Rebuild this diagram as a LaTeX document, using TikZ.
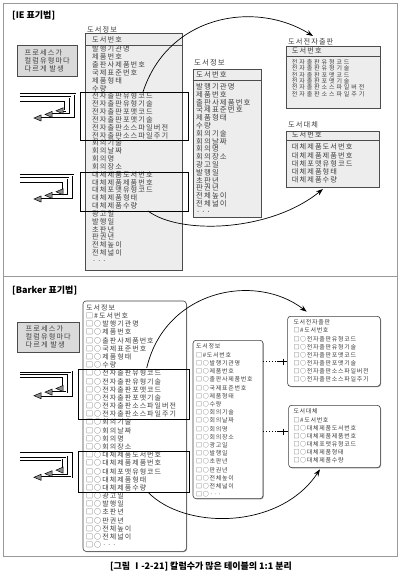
\documentclass[tikz,border=0pt]{standalone}
\usepackage{fontspec}
\setmainfont{Noto Sans CJK KR}
\newfontfamily\fA[LetterSpace=15]{Noto Sans CJK KR}
\newfontfamily\fB[LetterSpace=12]{Noto Sans CJK KR}
\newfontfamily\fC[LetterSpace=32]{Noto Sans CJK KR}
\usetikzlibrary{arrows.meta,shadows}
\definecolor{boxfill}{HTML}{EDEDED}
\definecolor{procfill}{HTML}{DADADA}
\definecolor{txt}{HTML}{404040}
\definecolor{panelc}{HTML}{9A9A9A}
\tikzset{
  panel/.style={draw=panelc, line width=0.9pt},
  title/.style={anchor=west, inner sep=0pt, font=\bfseries\fontsize{9}{10}\selectfont},
  rowA/.style={anchor=west, inner sep=0pt, text=txt, font=\fA\fontsize{7.2}{8}\selectfont, text height=6pt, text depth=0.7pt},
  rowM/.style={anchor=west, inner sep=0pt, text=txt, font=\fA\fontsize{7.4}{8}\selectfont, text height=6.1pt, text depth=0.7pt},
  rowB/.style={anchor=west, inner sep=0pt, text=txt, font=\fA\fontsize{7}{8}\selectfont, text height=5.9pt, text depth=0.7pt},
  rowS/.style={anchor=west, inner sep=0pt, text=txt, font=\fB\fontsize{6}{7}\selectfont, text height=5pt, text depth=0.6pt},
  rowC/.style={anchor=west, inner sep=0pt, text=txt, font=\fC\fontsize{6}{7}\selectfont, text height=5pt, text depth=0.6pt},
  iebox/.style={draw=black!70, line width=0.6pt, fill=boxfill, anchor=north west, inner sep=0pt},
  barkbox/.style={draw=black!75, line width=0.6pt, fill=white, rounded corners=3pt, anchor=north west, inner sep=0pt,
     drop shadow={shadow xshift=0.7pt, shadow yshift=-0.7pt, fill=black!55, opacity=0.8}},
  procbox/.style={draw=black!70, line width=0.6pt, fill=procfill, anchor=north west, inner sep=0pt},
  proctext/.style={align=left, inner sep=0pt, text=txt, font=\fA\fontsize{7.2}{7.7}\selectfont},
  hl/.style={draw=black, line width=1.1pt, anchor=north west, inner sep=0pt},
  sepline/.style={draw=black!70, line width=0.6pt},
  curvearrow/.style={line width=0.7pt, -{Stealth[length=7pt,width=5pt]}},
  bundleline/.style={line width=0.5pt, double=white, double distance=0.9pt},
  bundletip/.style={fill=black!45, draw=black, line width=0.5pt, line join=miter},
  relline/.style={line width=0.5pt},
  reldot/.style={line width=0.6pt, dash pattern=on 1pt off 2pt}
}
\newcommand\arrowbundle[2]{%
  \foreach \k in {0,1,2}{%
    \pgfmathsetmacro\yy{#1+3.3*\k}%
    \pgfmathsetmacro\xr{#2-5*\k}%
    \pgfmathsetmacro\yb{#1+24-3.6*\k}%
    \pgfmathsetmacro\xt{34+11*\k}%
    \draw[bundleline] (20,\yy) -- (\xr,\yy) -- (\xr,\yb) -- (\xt+7,\yb);
    \filldraw[bundletip] (\xt,\yb) -- (\xt+7,\yb-3) -- (\xt+7,\yb+3) -- cycle;
  }%
}
\begin{document}
\begin{tikzpicture}[x=1pt,y=-1pt]
\useasboundingbox (0,0) rectangle (400,577);
\fill[white] (0,0) rectangle (400,577);

% panels
\draw[panel] (3,3) rectangle (397,276);
\draw[panel] (3,276) rectangle (397,556);

\node[title] (ieTitle) at (12,15) {[IE 표기법]};
\node[title] (bkTitle) at (12,290) {[Barker 표기법]};

% ================= IE =================
\node[procbox, minimum width=60pt, minimum height=31pt] (ieProc) at (17,45) {};
\node[proctext] (ieProcT) at (ieProc.center) {프로세스가\\컬럼유형마다\\다르게 발생};

% big IE box
\node[rowA] (ieBigL) at (87,29.5) {도서정보};
\node[iebox, minimum width=97pt, minimum height=237pt] (ieBig) at (85,33) {};
\draw[sepline] (ieBig.west |- 0,45) -- (ieBig.east |- 0,45);
\node[rowA] (ieBigH) at (92,39.5) {도서번호};
\foreach \t [count=\i from 0] in {발행기관명,제품번호,출판사제품번호,국제표준번호,제품형태,수량,전자출판유형코드,전자출판유형기술,전자출판포맷코드,전자출판포맷기술,전자출판소스파일버전,전자출판소스파일주기,회의기술,회의날짜,회의명,회의장소,대체제품도서번호,대체제품제품번호,대체포맷유형코드,대체제품형태,대체제품수량,광고일,발행일,초판년,판권년,전체높이,전체넓이,···}
  \node[rowA] (ieBig-\i) at (92,{49.3+7.83*\i}) {\t};
\node[hl, minimum width=108pt, minimum height=48pt] (ieH1) at (80,92) {};
\node[hl, minimum width=108pt, minimum height=39pt] (ieH2) at (80,171.7) {};

% middle IE box
\node[rowM] (ieMidL) at (194,63.3) {도서정보};
\node[iebox, minimum width=68pt, minimum height=147.4pt] (ieMid) at (192.7,69.3) {};
\draw[sepline] (ieMid.west |- 0,80) -- (ieMid.east |- 0,80);
\node[rowM] (ieMidH) at (196,74.8) {도서번호};
\foreach \t [count=\i from 0] in {발행기관명,제품번호,출판사제품번호,국제표준번호,제품형태,수량,회의기술,회의날짜,회의명,회의장소,광고일,발행일,초판년,판권년,전체높이,전체넓이,···}
  \node[rowM] (ieMid-\i) at (196,{86.7+7.81*\i}) {\t};

% right IE boxes
\node[rowA] (ieR1L) at (288,41.5) {도서전자출판};
\node[iebox, minimum width=94pt, minimum height=62.6pt] (ieR1) at (286,45.7) {};
\draw[sepline] (ieR1.west |- 0,56.7) -- (ieR1.east |- 0,56.7);
\node[rowA] (ieR1H) at (291.7,51.3) {도서번호};
\foreach \t [count=\i from 0] in {전자출판유형코드,전자출판유형기술,전자출판포맷코드,전자출판포맷기술,전자출판소스파일버전,전자출판소스파일주기}
  \node[rowC] (ieR1-\i) at (291.7,{62.4+6.35*\i}) {\t};

\node[rowA] (ieR2L) at (288,125) {도서대체};
\node[iebox, minimum width=93pt, minimum height=55.7pt] (ieR2) at (286,131) {};
\draw[sepline] (ieR2.west |- 0,140.3) -- (ieR2.east |- 0,140.3);
\node[rowA] (ieR2H) at (291.7,135.3) {도서번호};
\foreach \t [count=\i from 0] in {대체제품도서번호,대체제품제품번호,대체포맷유형코드,대체제품형태,대체제품수량}
  \node[rowA] (ieR2-\i) at (291.7,{147.3+8.2*\i}) {\t};

% IE curves
\coordinate (ieC1s) at (143,92);
\coordinate (ieC1e) at (313,36);
\draw[curvearrow] (ieC1s) .. controls (168,15) and (255,0) .. (ieC1e);
\coordinate (ieC2s) at (148,211);
\coordinate (ieC2e) at (323,189);
\draw[curvearrow] (ieC2s) .. controls (180,235) and (270,232) .. (ieC2e);

% IE bundles
\arrowbundle{94}{75}
\arrowbundle{175}{73}

% ================= Barker =================
\node[procbox, minimum width=62.6pt, minimum height=30pt] (bkProc) at (16.7,321.7) {};
\node[proctext] (bkProcT) at (bkProc.center) {프로세스가\\컬럼유형마다\\다르게 발생};

% big Barker box
\node[barkbox, minimum width=103.3pt, minimum height=250.3pt] (bkBig) at (82.7,300.7) {};
\node[rowB] (bkBigL) at (86,308.3) {도서정보};
\node[rowB] (bkBig-h) at (86,316) {□\#도서번호};
\foreach \t [count=\i from 1] in {발행기관명,제품번호,출판사제품번호,국제표준번호,제품형태,수량,전자출판유형코드,전자출판유형기술,전자출판포맷코드,전자출판포맷기술,전자출판소스파일버전,전자출판소스파일주기,회의기술,회의날짜,회의명,회의장소,대체제품도서번호,대체제품제품번호,대체포맷유형코드,대체제품형태,대체제품수량,광고일,발행일,초판년,판권년,전체높이,전체넓이,···}
  \node[rowB] (bkBig-\i) at (86,{316+8.18*\i}) {□○\t};
\node[hl, minimum width=111pt, minimum height=50pt] (bkH1) at (78.3,369.3) {};
\node[hl, minimum width=111pt, minimum height=41pt] (bkH2) at (78.3,450.7) {};

% middle Barker box
\node[barkbox, minimum width=70pt, minimum height=158.3pt] (bkMid) at (192.7,340) {};
\node[rowS] (bkMidL) at (196,346.5) {도서정보};
\node[rowS] (bkMid-h) at (196,355) {□\#도서번호};
\foreach \t [count=\i from 1] in {발행기관명,제품번호,출판사제품번호,국제표준번호,제품형태,수량,회의기술,회의날짜,회의명,회의장소,광고일,발행일,초판년,판권년,전체높이,전체넓이,···}
  \node[rowS] (bkMid-\i) at (196,{355+8.2*\i}) {□○\t};

% right Barker boxes
\node[barkbox, minimum width=92.7pt, minimum height=70pt] (bkR1) at (287.3,316) {};
\node[rowS] (bkR1L) at (293.3,322.3) {도서전자출판};
\node[rowS] (bkR1-h) at (293.3,330.7) {□\#도서번호};
\foreach \t [count=\i from 1] in {전자출판유형코드,전자출판유형기술,전자출판포맷코드,전자출판포맷기술,전자출판소스파일버전,전자출판소스파일주기}
  \node[rowS] (bkR1-\i) at (293.3,{330.7+8.1*\i}) {□○\t};

\node[barkbox, minimum width=91.7pt, minimum height=62.3pt] (bkR2) at (288.3,405) {};
\node[rowS] (bkR2L) at (293.3,411.7) {도서대체};
\node[rowS] (bkR2-h) at (293.3,420) {□\#도서번호};
\foreach \t [count=\i from 1] in {대체제품도서번호,대체제품제품번호,대체포맷유형코드,대체제품형태,대체제품수량}
  \node[rowS] (bkR2-\i) at (293.3,{420+8*\i}) {□○\t};

% Barker relationships
\coordinate (rm1) at (277,361.7);
\draw[reldot] (bkMid.east |- rm1) -- (rm1);
\draw[relline] (rm1) -- (bkR1.west |- rm1);
\draw[relline] (283,358.5) -- (283,365);
\coordinate (rm2) at (277,431.7);
\draw[reldot] (bkMid.east |- rm2) -- (rm2);
\draw[relline] (rm2) -- (bkR2.west |- rm2);
\draw[relline] (283,428.5) -- (283,435);

% Barker curves
\coordinate (bkC1s) at (146.7,368);
\coordinate (bkC1e) at (306.7,311.7);
\draw[curvearrow] (bkC1s) .. controls (165,290) and (255,272) .. (bkC1e);
\coordinate (bkC2s) at (148.3,492.5);
\coordinate (bkC2e) at (320,469.3);
\draw[curvearrow] (bkC2s) .. controls (185,530) and (280,530) .. (bkC2e);

% Barker bundles
\arrowbundle{371.7}{71.7}
\arrowbundle{453.3}{71.7}

% caption
\node[font=\bfseries\fontsize{9}{10}\selectfont] (cap) at (201,566) {[그림 Ⅰ-2-21] 칼럼수가 많은 테이블의 1:1 분리};
\end{tikzpicture}
\end{document}
